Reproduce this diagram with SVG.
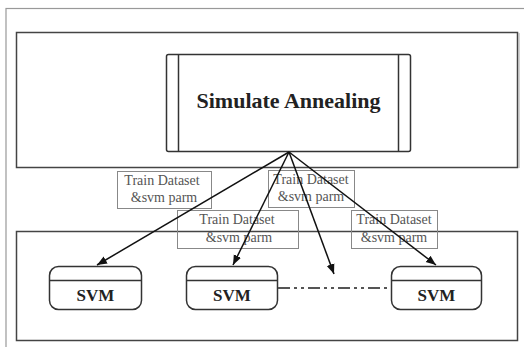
<svg xmlns="http://www.w3.org/2000/svg" width="524" height="347" viewBox="0 0 524 347">
<style>
.frame{fill:none;stroke:#444;stroke-width:1.5}
.box{fill:#fff;stroke:#333;stroke-width:1.5}
.lbl{fill:none;stroke:#888;stroke-width:1}
.lt{font-family:"Liberation Serif",serif;font-size:14px;fill:#555;text-anchor:middle}
.bt{font-family:"Liberation Serif",serif;font-weight:bold;fill:#222;text-anchor:middle}
.con{stroke:#111;stroke-width:1.5;fill:none}
</style>
<defs>
<marker id="ah" viewBox="0 0 10 10" refX="10" refY="5" markerWidth="10" markerHeight="10" markerUnits="userSpaceOnUse" orient="auto">
<path d="M0,1 L10,5 L0,9 Z" fill="#111"/>
</marker>
</defs>
<rect width="524" height="347" fill="#fff"/>
<rect x="6" y="8.5" width="530" height="350" fill="none" stroke="#999" stroke-width="1.2"/>
<g id="top-container">
<rect class="frame" x="16.5" y="32.5" width="501" height="135"/>
<line x1="519" y1="33" x2="519" y2="168" stroke="#aaa" stroke-width="1"/>
</g>
<g id="bottom-container">
<rect class="frame" x="16.5" y="231.5" width="501" height="109"/>
</g>
<g id="sa">
<rect class="box" x="166.5" y="54.5" width="244" height="97" rx="2"/>
<line x1="178.5" y1="55" x2="178.5" y2="151" stroke="#333" stroke-width="1.5"/>
<line x1="398.5" y1="55" x2="398.5" y2="151" stroke="#333" stroke-width="1.5"/>
<text class="bt" x="288.5" y="108" font-size="22">Simulate Annealing</text>
</g>
<g id="svm1">
<rect class="box" x="49.5" y="266.5" width="92" height="43" rx="9"/>
<line x1="50" y1="280.5" x2="141" y2="280.5" stroke="#333" stroke-width="1.5"/>
<text class="bt" x="95.5" y="301" font-size="17">SVM</text>
</g>
<g id="svm2">
<rect class="box" x="186.5" y="266.5" width="91" height="43" rx="9"/>
<line x1="187" y1="280.5" x2="277" y2="280.5" stroke="#333" stroke-width="1.5"/>
<text class="bt" x="232" y="301" font-size="17">SVM</text>
</g>
<g id="svm3">
<rect class="box" x="391.5" y="266.5" width="90" height="43" rx="9"/>
<line x1="392" y1="280.5" x2="481" y2="280.5" stroke="#333" stroke-width="1.5"/>
<text class="bt" x="436.5" y="301" font-size="17">SVM</text>
</g>
<g id="labels">
<rect class="lbl" x="117.5" y="171.5" width="94" height="37"/>
<text class="lt" x="162" y="185">Train Dataset</text>
<text class="lt" x="164" y="202">&amp;svm parm</text>
<rect class="lbl" x="268.5" y="170.5" width="86" height="37"/>
<text class="lt" x="311" y="184">Train Dataset</text>
<text class="lt" x="311" y="201">&amp;svm parm</text>
<rect class="lbl" x="177.5" y="210.5" width="121" height="38"/>
<text class="lt" x="237" y="224">Train Dataset</text>
<text class="lt" x="239" y="242">&amp;svm parm</text>
<rect class="lbl" x="351.5" y="210.5" width="86" height="38"/>
<text class="lt" x="394" y="224">Train Dataset</text>
<text class="lt" x="394" y="242">&amp;svm parm</text>
</g>
<g id="connectors">
<line class="con" x1="289" y1="152" x2="97" y2="265" marker-end="url(#ah)"/>
<line class="con" x1="289" y1="152" x2="233" y2="265" marker-end="url(#ah)"/>
<line class="con" x1="289" y1="152" x2="334" y2="274" marker-end="url(#ah)"/>
<line class="con" x1="289" y1="152" x2="436" y2="265" marker-end="url(#ah)"/>
<line x1="278" y1="288" x2="391" y2="288" stroke="#555" stroke-width="2" stroke-dasharray="12,4,3,4,3,4"/>
</g>
</svg>
